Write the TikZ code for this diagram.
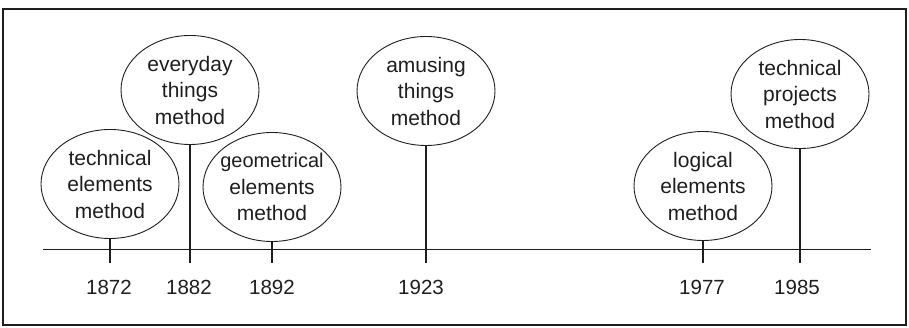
\documentclass[tikz,border=0pt]{standalone}
\usepackage{fontspec}
\setmainfont{Liberation Sans}
\usetikzlibrary{shapes.geometric}
\definecolor{ink}{HTML}{1E1E1E}
\begin{document}
\begin{tikzpicture}[x=1pt,y=-1pt,
  bubble/.style={ellipse,draw=ink,line width=0.9pt,minimum width=138pt,minimum height=109pt,inner sep=-15pt,
    align=center,font=\fontsize{21}{26.5}\selectfont,text=ink},
  year/.style={font=\fontsize{20.5}{24}\selectfont,text=ink,inner sep=0pt},
  stem/.style={draw=ink,line width=2pt},
  axisline/.style={draw=ink,line width=1pt},
  frame/.style={draw=ink,line width=2pt}]
\useasboundingbox (0,0) rectangle (909,328);
\draw[frame] (3,9) rectangle (906,325);
% axis
\coordinate (al) at (43,250);
\coordinate (ar) at (871,250);
\draw[axisline] (al) -- (ar);
% bubbles
\node[bubble] (e1) at (110,184) {technical\\elements\\method};
\node[bubble] (e2) at (190,90) {everyday\\things\\method};
\node[bubble] (e3) at (272,187) {\fontsize{20}{26.5}\selectfont geometrical\\elements\\method};
\node[bubble] (e4) at (426,91) {amusing\\things\\method};
\node[bubble] (e5) at (703,186) {logical\\elements\\method};
\node[bubble] (e6) at (800,94) {technical\\projects\\method};
% tick ends
\foreach \i in {1,...,6}{\coordinate (t\i) at (e\i.south |- 0,263);}
\foreach \i in {1,...,6}{\draw[stem] (e\i.south) -- (t\i);}
% years
\node[year] (y1) at (109,287) {1872};
\node[year] (y2) at (189,287) {1882};
\node[year] (y3) at (272,287) {1892};
\node[year] (y4) at (421,287) {1923};
\node[year] (y5) at (702,287) {1977};
\node[year] (y6) at (797,287) {1985};
\end{tikzpicture}
\end{document}
